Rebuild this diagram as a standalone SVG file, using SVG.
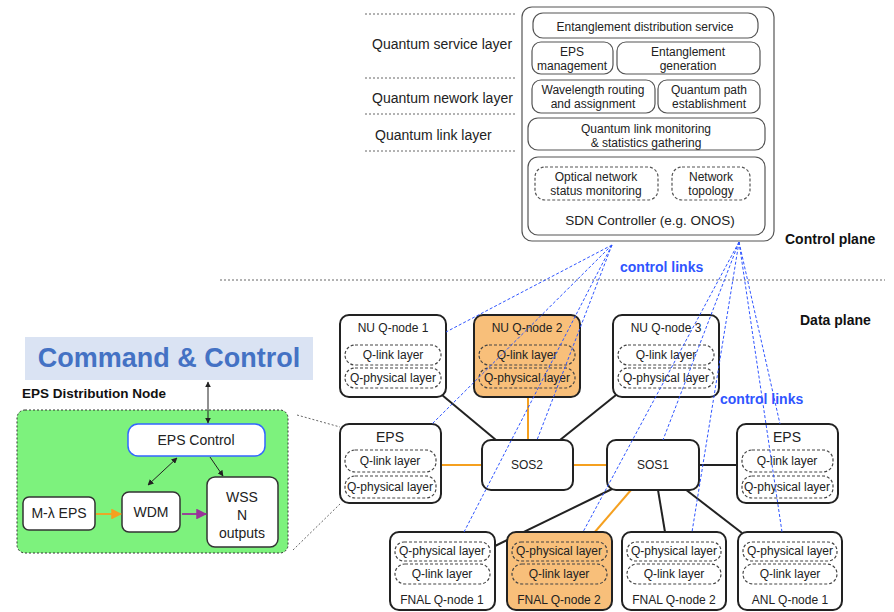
<svg xmlns="http://www.w3.org/2000/svg" width="894" height="612" viewBox="0 0 894 612">
<defs>
<style>
text{font-family:"Liberation Sans",Arial,sans-serif;fill:#222;}
.t12{font-size:12px;text-anchor:middle;}
.t14{font-size:14px;text-anchor:middle;}
.lay{font-size:14px;}
.bold{font-size:14px;font-weight:bold;fill:#111;}
.blue{font-size:14px;font-weight:bold;fill:#2f55ff;}
.cbox{fill:#fff;stroke:#555;stroke-width:1.2;}
.dbox{fill:#fff;stroke:#555;stroke-width:1.2;stroke-dasharray:3,2;}
.node{fill:#fff;stroke:#222;stroke-width:2;}
.onode{fill:#f8bf7a;stroke:#222;stroke-width:2;}
.pill{fill:none;stroke:#444;stroke-width:1.2;stroke-dasharray:3,2;}
.dot{stroke:#666;stroke-width:1;stroke-dasharray:2,2;fill:none;}
.ctl{stroke:#2f55ff;stroke-width:1;stroke-dasharray:3,2;fill:none;}
.blk{stroke:#222;stroke-width:2;fill:none;}
.org{stroke:#f5a01f;stroke-width:2;fill:none;}
.sbox{fill:#fff;stroke:#333;stroke-width:1.5;}
</style>
<marker id="ab" viewBox="0 0 10 10" refX="9" refY="5" markerWidth="6" markerHeight="6" orient="auto-start-reverse"><path d="M0,0 L10,5 L0,10 z" fill="#222"/></marker>
<marker id="ao" viewBox="0 0 10 10" refX="9" refY="5" markerWidth="6" markerHeight="6" orient="auto"><path d="M0,0 L10,5 L0,10 z" fill="#f5a01f"/></marker>
<marker id="ap" viewBox="0 0 10 10" refX="9" refY="5" markerWidth="6" markerHeight="6" orient="auto"><path d="M0,0 L10,5 L0,10 z" fill="#993399"/></marker>
</defs>

<!-- layer labels -->
<g id="layers">
<line class="dot" x1="365" y1="14" x2="517" y2="14"/>
<line class="dot" x1="365" y1="78" x2="517" y2="78"/>
<line class="dot" x1="365" y1="114" x2="517" y2="114"/>
<line class="dot" x1="365" y1="151" x2="517" y2="151"/>
<text class="lay" x="372" y="49">Quantum service layer</text>
<text class="lay" x="372" y="103">Quantum nework layer</text>
<text class="lay" x="375" y="140">Quantum link layer</text>
</g>

<!-- control plane box -->
<g id="control-box">
<rect class="cbox" x="522" y="7" width="252" height="234" rx="10"/>
<rect class="cbox" x="533" y="13" width="225" height="25" rx="10"/>
<text class="t12" x="645" y="31">Entanglement distribution service</text>
<rect class="cbox" x="532" y="42" width="81" height="32" rx="9"/>
<text class="t12" x="572" y="56">EPS</text>
<text class="t12" x="572" y="70">management</text>
<rect class="cbox" x="617" y="42" width="143" height="32" rx="9"/>
<text class="t12" x="688" y="56">Entanglement</text>
<text class="t12" x="688" y="70">generation</text>
<rect class="cbox" x="532" y="80" width="123" height="33" rx="9"/>
<text class="t12" x="593" y="94">Wavelength routing</text>
<text class="t12" x="593" y="108">and assignment</text>
<rect class="cbox" x="658" y="80" width="102" height="33" rx="9"/>
<text class="t12" x="709" y="94">Quantum path</text>
<text class="t12" x="709" y="108">establishment</text>
<rect class="cbox" x="528" y="118" width="237" height="32" rx="10"/>
<text class="t12" x="646" y="133">Quantum link monitoring</text>
<text class="t12" x="646" y="147">&amp; statistics gathering</text>
<rect class="cbox" x="528" y="157" width="237" height="78" rx="10"/>
<rect class="dbox" x="535" y="167" width="123" height="33" rx="10"/>
<text class="t12" x="596" y="181">Optical network</text>
<text class="t12" x="596" y="195">status monitoring</text>
<rect class="dbox" x="672" y="167" width="78" height="33" rx="10"/>
<text class="t12" x="711" y="181">Network</text>
<text class="t12" x="711" y="195">topology</text>
<text class="t14" x="650" y="225" style="font-size:13.5px">SDN Controller (e.g. ONOS)</text>
</g>

<g id="plane-labels">
<text class="bold" x="785" y="244">Control plane</text>
<text class="bold" x="800" y="325">Data plane</text>
<line class="dot" x1="220" y1="280" x2="885" y2="280"/>
<text class="blue" x="620" y="272">control links</text>
<text class="blue" x="720" y="404">control links</text>
</g>

<!-- data connectors -->
<g id="connectors">
<line class="blk" x1="442" y1="395" x2="496" y2="440"/>
<line class="blk" x1="616" y1="395" x2="560" y2="440"/>
<line class="org" x1="528" y1="397" x2="528" y2="440"/>
<line class="org" x1="441" y1="465" x2="482" y2="465"/>
<line class="org" x1="573" y1="465" x2="607" y2="465"/>
<line class="blk" x1="699" y1="465" x2="737" y2="465"/>
<line class="blk" x1="612" y1="489" x2="495" y2="546"/>
<line class="org" x1="631" y1="490" x2="594" y2="533"/>
<line class="blk" x1="658" y1="490" x2="665" y2="532"/>
<line class="blk" x1="685" y1="489" x2="742" y2="533"/>
<line class="dot" x1="297" y1="415" x2="340" y2="427"/>
<line class="dot" x1="293" y1="550" x2="340" y2="504"/>
</g>

<!-- data plane nodes -->
<g id="nu-qnode-1">
<rect class="node" x="340" y="315" width="106" height="82" rx="9"/>
<text class="t12" x="393" y="332">NU Q-node 1</text>
<rect class="pill" x="345" y="345" width="96" height="20" rx="10"/>
<text class="t12" x="393" y="359">Q-link layer</text>
<rect class="pill" x="345" y="368" width="96" height="20" rx="10"/>
<text class="t12" x="393" y="382">Q-physical layer</text>
</g>
<g id="nu-qnode-2">
<rect class="onode" x="474" y="315" width="106" height="82" rx="9"/>
<text class="t12" x="527" y="332">NU Q-node 2</text>
<rect class="pill" x="479" y="345" width="96" height="20" rx="10"/>
<text class="t12" x="527" y="359">Q-link layer</text>
<rect class="pill" x="479" y="368" width="96" height="20" rx="10"/>
<text class="t12" x="527" y="382">Q-physical layer</text>
</g>
<g id="nu-qnode-3">
<rect class="node" x="613" y="315" width="106" height="82" rx="9"/>
<text class="t12" x="666" y="332">NU Q-node 3</text>
<rect class="pill" x="618" y="345" width="96" height="20" rx="10"/>
<text class="t12" x="666" y="359">Q-link layer</text>
<rect class="pill" x="618" y="368" width="96" height="20" rx="10"/>
<text class="t12" x="666" y="382">Q-physical layer</text>
</g>
<g id="eps-left">
<rect class="node" x="340" y="424" width="101" height="79" rx="9"/>
<text class="t14" x="390" y="442">EPS</text>
<rect class="pill" x="345" y="450" width="91" height="22" rx="10"/>
<text class="t12" x="390" y="465">Q-link layer</text>
<rect class="pill" x="345" y="476" width="91" height="22" rx="10"/>
<text class="t12" x="390" y="491">Q-physical layer</text>
</g>
<g id="sos2">
<rect class="node" x="482" y="440" width="91" height="50" rx="9"/>
<text class="t12" x="527" y="469">SOS2</text>
</g>
<g id="sos1">
<rect class="node" x="607" y="440" width="92" height="50" rx="9"/>
<text class="t12" x="653" y="469">SOS1</text>
</g>
<g id="eps-right">
<rect class="node" x="737" y="424" width="101" height="79" rx="9"/>
<text class="t14" x="787" y="442">EPS</text>
<rect class="pill" x="742" y="450" width="91" height="22" rx="10"/>
<text class="t12" x="787" y="465">Q-link layer</text>
<rect class="pill" x="742" y="476" width="91" height="22" rx="10"/>
<text class="t12" x="787" y="491">Q-physical layer</text>
</g>
<g id="fnal-qnode-1">
<rect class="node" x="390" y="532" width="105" height="78" rx="9"/>
<rect class="pill" x="395" y="542" width="95" height="19" rx="9"/>
<text class="t12" x="442" y="555">Q-physical layer</text>
<rect class="pill" x="395" y="564" width="95" height="20" rx="10"/>
<text class="t12" x="442" y="578">Q-link layer</text>
<text class="t12" x="442" y="604">FNAL Q-node 1</text>
</g>
<g id="fnal-qnode-2-orange">
<rect class="onode" x="507" y="532" width="105" height="78" rx="9"/>
<rect class="pill" x="512" y="542" width="95" height="19" rx="9"/>
<text class="t12" x="559" y="555">Q-physical layer</text>
<rect class="pill" x="512" y="564" width="95" height="20" rx="10"/>
<text class="t12" x="559" y="578">Q-link layer</text>
<text class="t12" x="559" y="604">FNAL Q-node 2</text>
</g>
<g id="fnal-qnode-2">
<rect class="node" x="622" y="532" width="104" height="78" rx="9"/>
<rect class="pill" x="627" y="542" width="94" height="19" rx="9"/>
<text class="t12" x="674" y="555">Q-physical layer</text>
<rect class="pill" x="627" y="564" width="94" height="20" rx="10"/>
<text class="t12" x="674" y="578">Q-link layer</text>
<text class="t12" x="674" y="604">FNAL Q-node 2</text>
</g>
<g id="anl-qnode-1">
<rect class="node" x="738" y="532" width="104" height="78" rx="9"/>
<rect class="pill" x="743" y="542" width="94" height="19" rx="9"/>
<text class="t12" x="790" y="555">Q-physical layer</text>
<rect class="pill" x="743" y="564" width="94" height="20" rx="10"/>
<text class="t12" x="790" y="578">Q-link layer</text>
<text class="t12" x="790" y="604">ANL Q-node 1</text>
</g>

<!-- control links drawn over nodes -->
<g id="control-links">
<line class="ctl" x1="612" y1="245" x2="446" y2="332"/>
<line class="ctl" x1="612" y1="245" x2="432" y2="424"/>
<line class="ctl" x1="612" y1="245" x2="537" y2="440"/>
<line class="ctl" x1="612" y1="245" x2="464" y2="532"/>
<line class="ctl" x1="739" y1="242" x2="583" y2="532"/>
<line class="ctl" x1="739" y1="242" x2="663" y2="440"/>
<line class="ctl" x1="739" y1="242" x2="692" y2="532"/>
<line class="ctl" x1="739" y1="242" x2="782" y2="532"/>
<line class="ctl" x1="739" y1="242" x2="780" y2="424"/>
</g>

<!-- command & control -->
<g id="command-control">
<rect x="25" y="337" width="288" height="43" fill="#dae3f3"/>
<text x="169" y="367" text-anchor="middle" style="font-size:27px;font-weight:bold;fill:#4472c4">Command &amp; Control</text>
</g>
<g id="eps-distribution-node">
<text x="22" y="398" style="font-size:13.5px;font-weight:bold;fill:#111">EPS Distribution Node</text>
<rect x="17" y="410" width="271" height="143" rx="8" fill="#7df27d" stroke="#333" stroke-width="1" stroke-dasharray="2,2"/>
</g>
<g id="eps-control">
<rect x="128" y="424" width="137" height="32" rx="10" fill="#fff" stroke="#3366ff" stroke-width="1.5"/>
<text class="t14" x="196" y="445">EPS Control</text>
</g>
<g id="m-eps">
<rect class="sbox" x="23" y="497" width="72" height="33" rx="6"/>
<text class="t14" x="59" y="518">M-λ EPS</text>
</g>
<g id="wdm">
<rect class="sbox" x="122" y="492" width="58" height="40" rx="7"/>
<text class="t14" x="151" y="517">WDM</text>
</g>
<g id="wss">
<rect class="sbox" x="207" y="477" width="71" height="70" rx="8"/>
<text class="t14" x="242" y="502">WSS</text>
<text class="t14" x="242" y="520">N</text>
<text class="t14" x="242" y="538">outputs</text>
</g>
<g id="cc-connectors">
<line x1="208" y1="382" x2="208" y2="423" stroke="#222" stroke-width="1" marker-start="url(#ab)" marker-end="url(#ab)"/>
<line x1="177" y1="458" x2="148" y2="485" stroke="#222" stroke-width="1" marker-start="url(#ab)" marker-end="url(#ab)"/>
<line x1="210" y1="457" x2="223" y2="476" stroke="#222" stroke-width="1" marker-end="url(#ab)"/>
<line x1="96" y1="514" x2="121" y2="514" stroke="#f5a01f" stroke-width="1.8" marker-end="url(#ao)"/>
<line x1="182" y1="514" x2="206" y2="514" stroke="#993399" stroke-width="1.8" marker-end="url(#ap)"/>
</g>
</svg>
